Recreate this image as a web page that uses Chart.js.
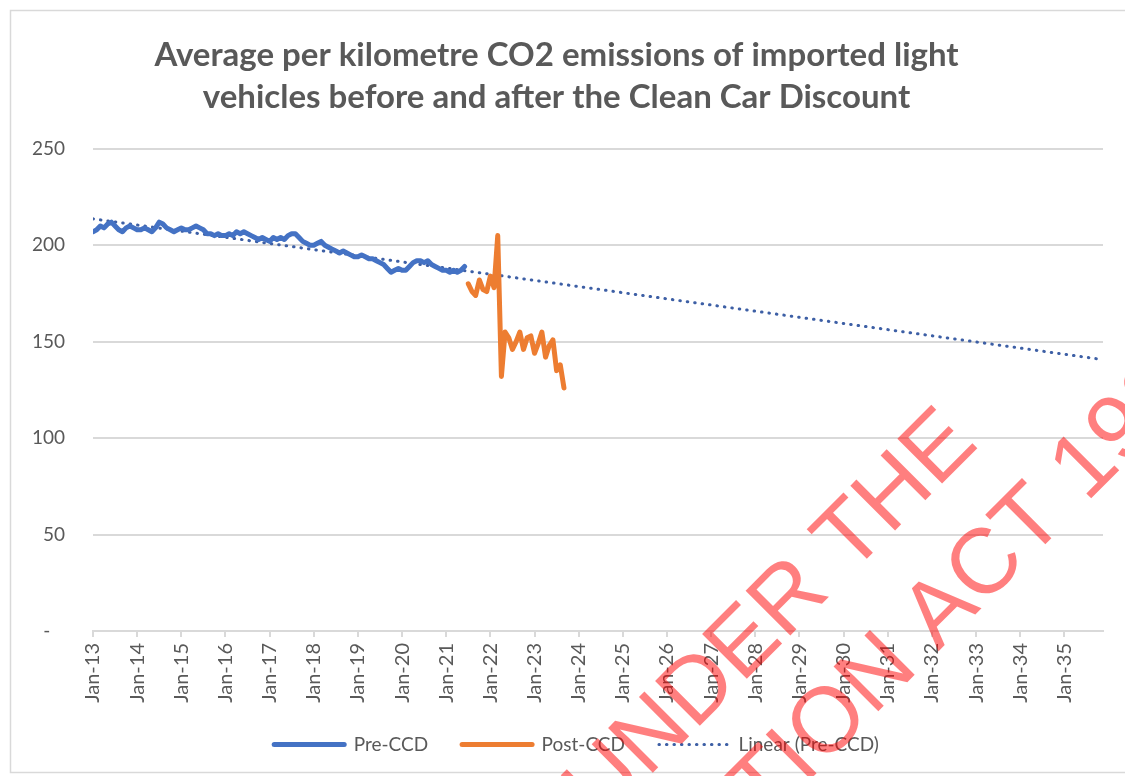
<!DOCTYPE html>
<html>
<head>
<meta charset="utf-8">
<script src="https://cdn.jsdelivr.net/npm/chart.js@4.4.1/dist/chart.umd.min.js"></script>
<style>
  html, body { margin: 0; padding: 0; background: #ffffff; }
  #wrap { width: 1125px; height: 776px; position: relative; }
</style>
</head>
<body>
<div id="wrap"><canvas id="c" width="1125" height="776"></canvas></div>
<script>
// ---------- DATA ----------
const chartTitle = ['Average per kilometre CO2 emissions of imported light',
                    'vehicles before and after the Clean Car Discount'];
const seriesNames = ['Pre-CCD', 'Post-CCD', 'Linear (Pre-CCD)'];
// x-axis tick labels (one per January, months since Jan-13 = index*12)
const yearLabels = ['Jan-13','Jan-14','Jan-15','Jan-16','Jan-17','Jan-18','Jan-19','Jan-20',
                    'Jan-21','Jan-22','Jan-23','Jan-24','Jan-25','Jan-26','Jan-27','Jan-28',
                    'Jan-29','Jan-30','Jan-31','Jan-32','Jan-33','Jan-34','Jan-35'];
// Monthly averages, Pre-CCD: Jan-13 .. Jun-21
const preCcdStartMonth = 0;
const preCcdValues = [
  207, 208, 210, 209, 211, 212, 210, 208, 207, 209, 210, 209,   // 2013
  208, 208, 209, 208, 207, 209, 212, 211, 209, 208, 207, 208,   // 2014
  209, 208, 208, 209, 210, 209, 208, 206, 206, 205, 206, 205,   // 2015
  205, 206, 205, 207, 206, 207, 206, 205, 204, 203, 204, 203,   // 2016
  202, 204, 203, 204, 203, 205, 206, 206, 204, 202, 201, 200,   // 2017
  200, 201, 202, 200, 199, 198, 197, 196, 197, 196, 195, 194,   // 2018
  194, 195, 194, 193, 193, 192, 191, 190, 188, 186, 187, 188,   // 2019
  187, 187, 189, 191, 192, 192, 191, 192, 190, 189, 188, 187,   // 2020
  187, 186, 187, 186, 187, 189                                  // 2021
];
// Monthly averages, Post-CCD: Jul-21 .. Sep-23
const postCcdStartMonth = 102;
const postCcdValues = [
  180, 176, 174, 182, 177, 176,                                 // Jul-21 .. Dec-21
  184, 178, 205, 132, 155, 152, 146, 150, 155, 146, 152, 153,   // 2022
  144, 149, 155, 142, 148, 151, 135, 138, 126                   // 2023
];
// Linear trendline of Pre-CCD, end points
const trendMonths = [0, 274.5];
const trendValues = [213.7, 140.7];
const axisMaxMonth = 274.5;
const yTicks = [0, 50, 100, 150, 200, 250];
const watermarkLines = ['RELEASED UNDER THE', 'OFFICIAL INFORMATION ACT 1982'];

// ---------- BUILD ----------
const toPoints = (start, vals) => vals.map((v, i) => ({ x: start + i, y: v }));
const trendPoints = trendMonths.map((m, i) => ({ x: m, y: trendValues[i] }));

const TXT = '#595959';
const GRID = '#d9d9d9';
const FONT = 'Lato, "Open Sans", sans-serif';

const framePlugin = {
  id: 'frame',
  beforeDraw(chart) {
    const ctx = chart.ctx;
    ctx.save();
    ctx.fillStyle = '#ffffff';
    ctx.fillRect(0, 0, chart.width, chart.height);
    ctx.strokeStyle = '#d9d9d9';
    ctx.lineWidth = 1.5;
    ctx.beginPath();
    ctx.moveTo(1125, 10.5); ctx.lineTo(10.5, 10.5); ctx.lineTo(10.5, 772.5); ctx.lineTo(1125, 772.5);
    ctx.stroke();
    ctx.restore();
  },
  afterLayout(chart) {
    const lg = chart.legend;
    if (lg) {
      const dx = 20;
      lg.left += dx; lg.right += dx;
      const h = lg.height;
      lg.top = 745 - lg.options.labels.padding - 10;
      lg.bottom = lg.top + h;
    }
  },
  afterDraw(chart) {
    const ctx = chart.ctx;
    ctx.save();
    ctx.rotate(-Math.PI / 4);
    ctx.fillStyle = 'rgba(255, 0, 0, 0.5)';
    ctx.font = 'normal 92px "Liberation Sans", Arial, sans-serif';
    ctx.textAlign = 'right';
    ctx.textBaseline = 'alphabetic';
    ctx.fillText(watermarkLines[0], 378, 1008);
    ctx.fillText(watermarkLines[1], 617, 1124);
    ctx.restore();
  }
};

new Chart(document.getElementById('c'), {
  type: 'line',
  data: {
    datasets: [
      {
        label: seriesNames[0],
        data: toPoints(preCcdStartMonth, preCcdValues),
        borderColor: '#4472C4', backgroundColor: '#4472C4',
        borderWidth: 5, pointRadius: 0, tension: 0,
        borderCapStyle: 'round', borderJoinStyle: 'round',
        pointStyle: 'line'
      },
      {
        label: seriesNames[1],
        data: toPoints(postCcdStartMonth, postCcdValues),
        borderColor: '#ED7D31', backgroundColor: '#ED7D31',
        borderWidth: 5, pointRadius: 0, tension: 0,
        borderCapStyle: 'round', borderJoinStyle: 'round',
        pointStyle: 'line'
      },
      {
        label: seriesNames[2],
        data: trendPoints,
        borderColor: '#3d5fa5', backgroundColor: '#3d5fa5',
        borderWidth: 3, pointRadius: 0,
        borderDash: [0.5, 7], borderCapStyle: 'round',
        pointStyle: 'line'
      }
    ]
  },
  options: {
    responsive: false,
    animation: false,
    devicePixelRatio: 1,
    layout: { padding: { left: 10, right: 22, top: 10, bottom: 0 } },
    plugins: {
      title: {
        display: true,
        text: chartTitle,
        color: TXT,
        font: { family: FONT, size: 33, weight: 'bold', lineHeight: 1.27 },
        padding: { top: 24, bottom: 31 }
      },
      legend: {
        position: 'bottom',
        labels: {
          usePointStyle: true,
          pointStyleWidth: 70,
          color: TXT,
          font: { family: FONT, size: 19 },
          padding: 34,
          generateLabels(chart) {
            const items = Chart.defaults.plugins.legend.labels.generateLabels(chart);
            items.forEach(it => {
              const ds = chart.data.datasets[it.datasetIndex];
              it.lineDash = ds.borderDash || [];
              it.lineCap = ds.borderCapStyle || 'butt';
              it.lineWidth = ds.borderWidth;
            });
            return items;
          }
        }
      },
      tooltip: { enabled: false }
    },
    scales: {
      x: {
        type: 'linear',
        min: 0,
        max: axisMaxMonth,
        afterBuildTicks(scale) {
          scale.ticks = yearLabels.map((_, i) => ({ value: i * 12 }));
        },
        afterFit(scale) { scale.height = 82; },
        ticks: {
          autoSkip: false,
          minRotation: 90, maxRotation: 90,
          padding: 6,
          color: TXT,
          font: { family: FONT, size: 20 },
          callback: (v) => yearLabels[Math.round(v / 12)]
        },
        grid: { drawOnChartArea: false, drawTicks: true, tickLength: 6, color: GRID, lineWidth: 2 },
        border: { display: true, color: GRID, width: 2 }
      },
      y: {
        min: 0, max: 250,
        afterBuildTicks(scale) {
          scale.ticks = yTicks.map(v => ({ value: v }));
        },
        afterFit(scale) { scale.width = 83; },
        ticks: {
          padding: 28,
          color: TXT,
          font: { family: FONT, size: 19 },
          callback: (v) => (v === 0 ? '-   ' : String(v))
        },
        grid: { color: GRID, lineWidth: 2, drawTicks: false },
        border: { display: false }
      }
    }
  },
  plugins: [framePlugin]
});
</script>
</body>
</html>
